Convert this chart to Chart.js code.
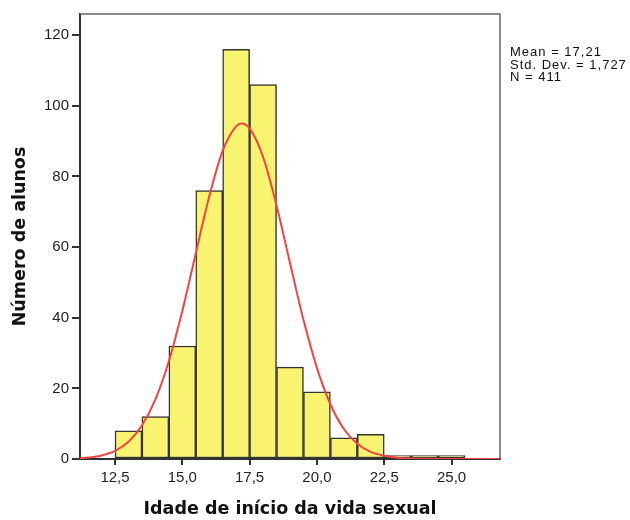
<!DOCTYPE html>
<html>
<head>
<meta charset="utf-8">
<script src="https://cdn.jsdelivr.net/npm/chart.js@4.4.1/dist/chart.umd.min.js"></script>
<style>
    html, body { margin: 0; padding: 0; background: #fff; }
    canvas { display: block; }
</style>
</head>
<body>
<canvas id="chart" width="630" height="520"></canvas>
<script>
// histogram: age at first sexual intercourse (one bar per year)
const ages = [13, 14, 15, 16, 17, 18, 19, 20, 21, 22, 23, 24, 25];
const counts = [8, 12, 32, 76, 116, 106, 26, 19, 6, 7, 1, 1, 1];

// normal curve
const curveX = [11.2, 11.5, 12, 12.5, 13, 13.5, 14, 14.5, 15, 15.5, 16, 16.5, 17, 17.2, 17.5, 18, 18.5, 19, 19.5, 20, 20.5, 21, 21.5, 22, 22.5, 23, 23.5, 24, 25, 26, 26.8];
const curveY = [0.2, 0.4, 1.0, 2.3, 4.9, 9.5, 16.9, 27.7, 41.9, 58.2, 74.3, 87.3, 94.2, 95.0, 93.6, 85.5, 71.8, 55.5, 39.4, 25.8, 15.5, 8.5, 4.3, 2.0, 0.9, 0.35, 0.13, 0.04, 0, 0, 0];

const xTicks = [12.5, 15, 17.5, 20, 22.5, 25];
const yTicks = [0, 20, 40, 60, 80, 100, 120];
const stats = ['Mean = 17,21', 'Std. Dev. = 1,727', 'N = 411'];

const axisColor = '#333';
const tickFont = { family: 'Liberation Sans, Arial, sans-serif', size: 15 };
const titleFont = { family: 'DejaVu Sans, sans-serif', size: 17.5, weight: 'bold' };

// box round the plot and the stats text on the right
const framePlugin = {
    id: 'frame',
    afterDraw(chart) {
        const { ctx, chartArea: a } = chart;
        ctx.save();
        ctx.strokeStyle = '#666';
        ctx.lineWidth = 1.5;
        ctx.beginPath();
        ctx.moveTo(a.left, a.top);
        ctx.lineTo(a.right, a.top);
        ctx.lineTo(a.right, a.bottom);
        ctx.stroke();

        ctx.fillStyle = '#111';
        ctx.font = '13px "Liberation Sans", Arial, sans-serif';
        ctx.letterSpacing = '1px';
        ctx.textBaseline = 'alphabetic';
        stats.forEach((line, i) => {
            ctx.fillText(line, a.right + 10, 56 + i * 12.5);
        });
        ctx.restore();
    }
};

new Chart(document.getElementById('chart'), {
    type: 'bar',
    data: {
        datasets: [
            {
                type: 'line',
                data: curveX.map((x, i) => ({ x: x, y: curveY[i] })),
                borderColor: '#f04444',
                borderWidth: 2,
                pointRadius: 0,
                cubicInterpolationMode: 'monotone',
                fill: false,
                order: 0
            },
            {
                type: 'bar',
                data: ages.map((x, i) => ({ x: x, y: counts[i] })),
                backgroundColor: '#f8f46f',
                borderColor: '#333',
                borderWidth: 1.5,
                borderSkipped: false,
                barPercentage: 1,
                categoryPercentage: 1,
                order: 1
            }
        ]
    },
    options: {
        responsive: false,
        animation: false,
        layout: { padding: { top: 14, right: 130, left: 0, bottom: 0 } },
        plugins: {
            legend: { display: false },
            tooltip: { enabled: false }
        },
        scales: {
            x: {
                type: 'linear',
                min: 11.2,
                max: 26.8,
                offset: false,
                afterBuildTicks: (scale) => { scale.ticks = xTicks.map((v) => ({ value: v })); },
                afterFit: (scale) => { scale.height = 61; },
                grid: { offset: false, drawOnChartArea: false, drawTicks: true, tickLength: 6, color: axisColor, lineWidth: 2 },
                border: { display: true, color: axisColor, width: 2 },
                ticks: {
                    color: '#222',
                    font: tickFont,
                    padding: 4,
                    maxRotation: 0,
                    callback: (v) => v.toFixed(1).replace('.', ',')
                },
                title: {
                    display: true,
                    text: 'Idade de início da vida sexual',
                    color: '#111',
                    font: titleFont,
                    padding: { top: 0, bottom: 0 }
                }
            },
            y: {
                min: 0,
                max: 126,
                afterBuildTicks: (scale) => { scale.ticks = yTicks.map((v) => ({ value: v })); },
                afterFit: (scale) => { scale.width = 80; },
                grid: { drawOnChartArea: false, drawTicks: true, tickLength: 8, color: axisColor, lineWidth: 2 },
                border: { display: true, color: axisColor, width: 2 },
                ticks: {
                    color: '#222',
                    font: tickFont,
                    padding: 3
                },
                title: {
                    display: true,
                    text: 'Número de alunos',
                    color: '#111',
                    font: titleFont,
                    padding: { top: 10, bottom: 0 }
                }
            }
        }
    },
    plugins: [framePlugin]
});
</script>
</body>
</html>
